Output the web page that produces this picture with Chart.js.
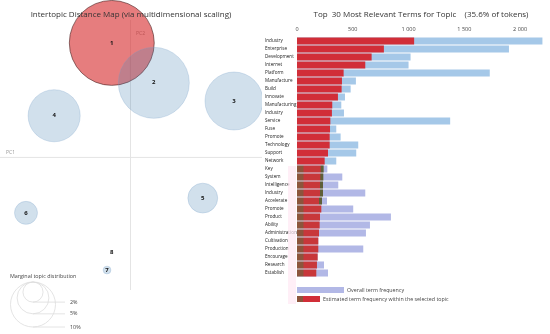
<!DOCTYPE html>
<html lang="en">
<head>
<meta charset="UTF-8">
<title>Topic overview</title>
<script src="https://cdn.jsdelivr.net/npm/chart.js@4.4.1/dist/chart.umd.min.js"></script>
<style>
  html, body { margin: 0; padding: 0; background: #fff; }
  .wrap { position: relative; width: 550px; height: 334px; overflow: hidden; }
  #topics { position: absolute; left: 0; top: 0; }
  #terms { position: absolute; left: 260px; top: 0; }
</style>
</head>
<body>
<div class="wrap">
  <canvas id="topics" width="262" height="334"></canvas>
  <canvas id="terms" width="290" height="334"></canvas>
</div>
<script>
// intertopic distance map: position on PC1 / PC2 and share of tokens (%)
const topicIds = ['1', '2', '3', '4', '5', '6', '7', '8'];
const topicPC1 = [-0.042, 0.055, 0.240, -0.175, 0.168, -0.240, -0.053, -0.042];
const topicPC2 = [0.263, 0.171, 0.129, 0.095, -0.095, -0.129, -0.261, -0.219];
const topicShare = [35.6, 24.9, 16.6, 13.4, 4.4, 2.6, 0.3, 0.0];
const legendShares = [2, 5, 10];

// top 30 relevant terms for topic 1
const terms = ['Industry', 'Enterprise', 'Development', 'Internet', 'Platform', 'Manufacture', 'Build',
  'Innovate', 'Manufacturing', 'Industry', 'Service', 'Fuse', 'Promote', 'Technology', 'Support',
  'Network', 'Key', 'System', 'Intelligence', 'Industry', 'Accelerate', 'Promote', 'Product', 'Ability',
  'Administration', 'Cultivation', 'Production', 'Encourage', 'Research', 'Establish'];
const termTotal = [2200, 1900, 1018, 1000, 1728, 528, 481, 430, 397, 421, 1373, 352, 391, 549, 531,
  352, 272, 406, 370, 612, 269, 504, 842, 654, 618, 191, 594, 185, 242, 278];
const termTopic = [1050, 779, 669, 612, 418, 403, 400, 367, 316, 313, 299, 296, 293, 293, 278,
  248, 239, 236, 233, 233, 224, 218, 206, 203, 197, 191, 191, 185, 179, 173];
const freqTicks = [0, 500, 1000, 1500, 2000];

const font = '"Open Sans", "Noto Sans", sans-serif';
Chart.defaults.font.family = font;

const sizeK = 22.5 / Math.sqrt(10);   // px radius per sqrt(%)
const red = 'rgb(209,46,56)';
const brown = 'rgb(140,85,60)';
const olive = 'rgb(95,95,55)';

const mapDecor = {
  id: 'mapDecor',
  beforeDatasetsDraw(chart) {
    const { ctx, chartArea: a, scales: { x, y } } = chart;
    const x0 = x.getPixelForValue(0), y0 = y.getPixelForValue(0);
    ctx.save();
    ctx.strokeStyle = '#e4e4e4';
    ctx.lineWidth = 1;
    ctx.beginPath();
    ctx.moveTo(a.left, y0 + 0.5); ctx.lineTo(a.right, y0 + 0.5);
    ctx.moveTo(x0 + 0.5, a.top + 20); ctx.lineTo(x0 + 0.5, 290);
    ctx.stroke();
    ctx.fillStyle = '#999';
    ctx.font = '5px ' + font;
    ctx.textBaseline = 'bottom';
    ctx.fillText('PC1', 6, y0 - 2);
    ctx.fillText('PC2', x0 + 6, 36);
    ctx.restore();
  },
  afterDatasetsDraw(chart) {
    const { ctx } = chart;
    ctx.save();
    ctx.fillStyle = '#111';
    ctx.textAlign = 'center';
    ctx.textBaseline = 'middle';
    ctx.font = 'bold 6px ' + font;
    chart.getDatasetMeta(0).data.forEach((el, i) => ctx.fillText(topicIds[i], el.x, el.y));

    ctx.fillStyle = '#333';
    ctx.font = '8px ' + font;
    ctx.fillText('Intertopic Distance Map (via multidimensional scaling)', 131, 15);

    // marginal topic distribution legend
    ctx.textAlign = 'left';
    ctx.fillStyle = '#444';
    ctx.font = '5.4px ' + font;
    ctx.fillText('Marginal topic distribution', 10, 276);
    const cx = 33, top = 282;
    ctx.strokeStyle = '#ddd';
    ctx.lineWidth = 0.8;
    legendShares.forEach(s => {
      const r = sizeK * Math.sqrt(s);
      ctx.beginPath();
      ctx.arc(cx, top + r, r, 0, Math.PI * 2);
      ctx.stroke();
      ctx.beginPath();
      ctx.moveTo(cx, top + 2 * r); ctx.lineTo(65, top + 2 * r);
      ctx.stroke();
      ctx.fillText(s + '%', 70, top + 2 * r);
    });
    ctx.restore();
  }
};

new Chart(document.getElementById('topics'), {
  type: 'bubble',
  data: {
    datasets: [{
      data: topicIds.map((id, i) => ({ x: topicPC1[i], y: topicPC2[i], r: sizeK * Math.sqrt(topicShare[i]) })),
      backgroundColor: topicIds.map((id, i) => i === 0 ? 'rgba(214,39,40,0.6)' : 'rgba(70,130,180,0.25)'),
      borderColor: topicIds.map((id, i) => i === 0 ? 'rgba(80,40,40,0.8)' : 'rgba(120,160,200,0.35)'),
      borderWidth: 0.8,
      clip: false
    }]
  },
  options: {
    responsive: false,
    animation: false,
    layout: { padding: 0, autoPadding: false },
    plugins: { legend: { display: false }, tooltip: { enabled: false } },
    scales: {
      x: { display: false, min: -0.3, max: 0.3047 },
      y: { display: false, min: -0.4085, max: 0.362 }
    }
  },
  plugins: [mapDecor]
});

const termDecor = {
  id: 'termDecor',
  beforeDatasetsDraw(chart) {
    // faint pink strip left of the lower bars
    const { ctx } = chart;
    ctx.save();
    ctx.fillStyle = 'rgba(255,232,244,0.7)';
    ctx.fillRect(28, 166, 8, 138);
    ctx.restore();
  },
  afterDraw(chart) {
    const { ctx } = chart;
    const x0 = chart.scales.x.getPixelForValue(0);
    ctx.save();
    ctx.fillStyle = '#333';
    ctx.font = '8px ' + font;
    ctx.textAlign = 'center';
    ctx.textBaseline = 'middle';
    ctx.fillText('Top  30 Most Relevant Terms for Topic    (35.6% of tokens)', 161, 15);

    ctx.textAlign = 'left';
    ctx.font = '5.3px ' + font;
    ctx.fillStyle = 'rgb(178,184,230)';
    ctx.fillRect(x0, 287, 47, 6);
    ctx.fillStyle = '#444';
    ctx.fillText('Overall term frequency', x0 + 50, 290);
    ctx.fillStyle = red;
    ctx.fillRect(x0, 296, 23, 6);
    ctx.fillStyle = brown;
    ctx.fillRect(x0, 296, 6, 6);
    ctx.fillStyle = '#444';
    ctx.fillText('Estimated term frequency within the selected topic', x0 + 26, 299);
    ctx.restore();
  }
};

// lower rows of the topic bars carry a brown start (and an olive tip on a few)
function topicColor(c) {
  const i = c.dataIndex;
  if (i < 16) return red;
  const xs = c.chart.scales.x;
  const x0 = xs.getPixelForValue(0);
  const x1 = xs.getPixelForValue(termTopic[i]);
  const w = x1 - x0;
  const g = c.chart.ctx.createLinearGradient(x0, 0, x1, 0);
  g.addColorStop(0, brown);
  g.addColorStop(6 / w, brown);
  g.addColorStop(7 / w, 'rgb(200,55,58)');
  if (i <= 20) {
    g.addColorStop((w - 3.5) / w, 'rgb(200,55,58)');
    g.addColorStop((w - 2.5) / w, olive);
    g.addColorStop(1, olive);
  } else {
    g.addColorStop(1, 'rgb(200,55,58)');
  }
  return g;
}

new Chart(document.getElementById('terms'), {
  type: 'bar',
  data: {
    labels: terms,
    datasets: [{
      label: 'Estimated term frequency within the selected topic',
      data: termTopic,
      backgroundColor: topicColor,
      grouped: false,
      barPercentage: 0.88,
      categoryPercentage: 1
    }, {
      label: 'Overall term frequency',
      data: termTotal,
      backgroundColor: terms.map((t, i) => i < 16 ? 'rgb(165,200,232)' : 'rgb(178,184,230)'),
      grouped: false,
      barPercentage: 0.88,
      categoryPercentage: 1
    }]
  },
  options: {
    indexAxis: 'y',
    responsive: false,
    animation: false,
    layout: { padding: { left: 5, right: 2, top: 0, bottom: 57 } },
    plugins: { legend: { display: false }, tooltip: { enabled: false } },
    scales: {
      x: {
        position: 'top',
        min: 0,
        max: 2250,
        grid: { display: false, drawTicks: false },
        border: { display: false },
        afterBuildTicks: s => { s.ticks = freqTicks.map(v => ({ value: v })); },
        ticks: {
          autoSkip: false,
          padding: 4,
          color: '#444',
          font: { size: 5.5 },
          callback: v => String(v).replace(/\B(?=(\d{3})+$)/g, ' ')
        },
        afterFit: s => { s.height = 37; }
      },
      y: {
        grid: { display: false, drawTicks: false },
        border: { display: false },
        ticks: { crossAlign: 'far', padding: 0, autoSkip: false, color: '#222', font: { size: 4.6 } },
        afterFit: s => { s.width = 32; }
      }
    }
  },
  plugins: [termDecor]
});
</script>
</body>
</html>
